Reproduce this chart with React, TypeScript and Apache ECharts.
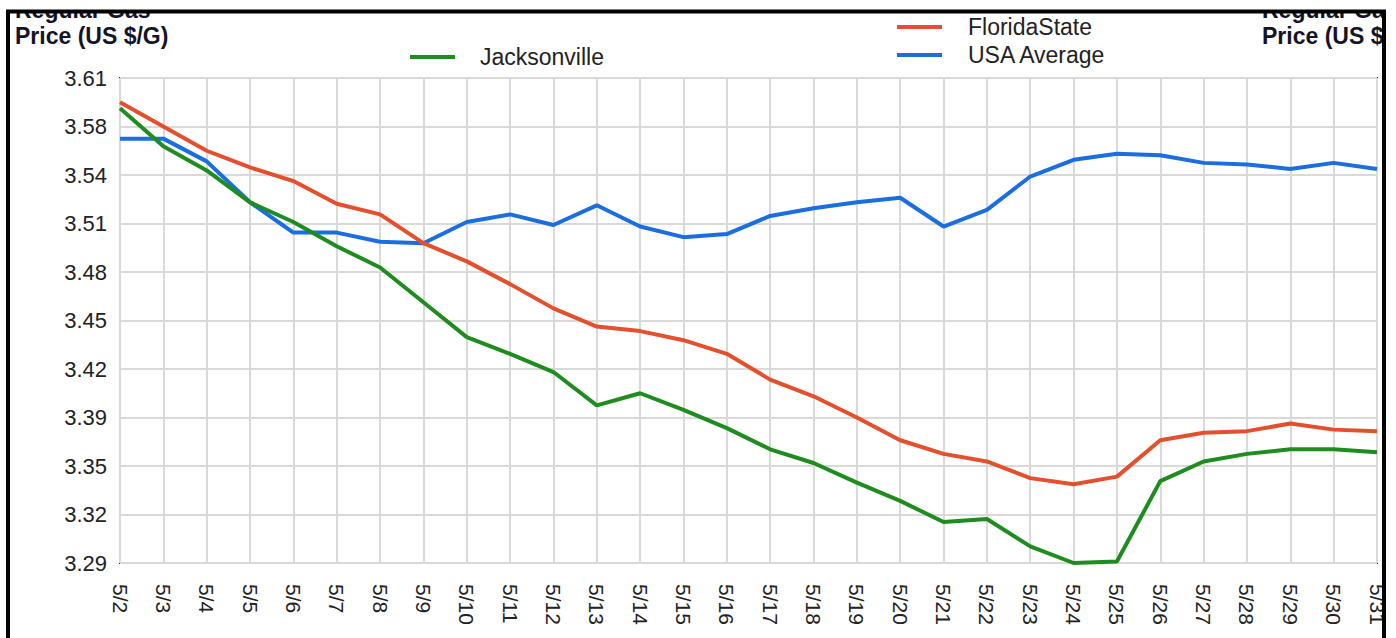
import React, { useEffect, useRef } from "react";
import * as echarts from "echarts";

const dates = ["5/2","5/3","5/4","5/5","5/6","5/7","5/8","5/9","5/10","5/11","5/12","5/13","5/14","5/15","5/16","5/17","5/18","5/19","5/20","5/21","5/22","5/23","5/24","5/25","5/26","5/27","5/28","5/29","5/30","5/31"];

const jacksonville = [3.590,3.565,3.549,3.528,3.515,3.499,3.485,3.462,3.439,3.428,3.416,3.394,3.402,3.391,3.379,3.365,3.356,3.343,3.331,3.317,3.319,3.301,3.290,3.291,3.344,3.357,3.362,3.365,3.365,3.363];
const floridaState = [3.594,3.578,3.562,3.551,3.542,3.527,3.520,3.501,3.489,3.474,3.458,3.446,3.443,3.437,3.428,3.411,3.400,3.386,3.371,3.362,3.357,3.346,3.342,3.347,3.371,3.376,3.377,3.382,3.378,3.377];
const usaAverage = [3.570,3.570,3.555,3.528,3.508,3.508,3.502,3.501,3.515,3.520,3.513,3.526,3.512,3.505,3.507,3.519,3.524,3.528,3.531,3.512,3.523,3.545,3.556,3.560,3.559,3.554,3.553,3.550,3.554,3.550];

const yTickLabels = ["3.29","3.32","3.35","3.39","3.42","3.45","3.48","3.51","3.54","3.58","3.61"];
const yMin = 3.29;
const yMax = 3.61;

const FONT = "'Liberation Sans', Arial, sans-serif";

export default function App() {
  const ref = useRef<HTMLDivElement>(null);
  useEffect(() => {
    if (!ref.current) return;
    const chart = echarts.init(ref.current, null, { renderer: "svg" });
    const gridColor = "#d9d9d9";
    chart.setOption({
      animation: false,
      backgroundColor: "#ffffff",
      textStyle: { fontFamily: FONT },
      grid: {
        left: 120, right: 19, top: 78, bottom: 75,
        show: true, borderColor: "#262626", borderWidth: 2, backgroundColor: "transparent",
      },
      legend: [
        {
          data: ["Jacksonville"], left: 410, top: 45, padding: 0,
          icon: "rect", itemWidth: 45, itemHeight: 4,
          textStyle: { fontSize: 23, color: "#222", fontFamily: FONT, lineHeight: 24, padding: [0, 0, 0, 20] },
        },
        {
          data: ["FloridaState", "USA Average"], left: 897, top: 15, padding: 0, orient: "vertical",
          icon: "rect", itemWidth: 45, itemHeight: 4, itemGap: 4,
          textStyle: { fontSize: 23, color: "#222", fontFamily: FONT, lineHeight: 24, padding: [0, 0, 0, 21] },
        },
      ],
      xAxis: {
        type: "category", data: dates, boundaryGap: false,
        axisLine: { show: false }, axisTick: { show: false },
        splitLine: { show: true, lineStyle: { color: gridColor, width: 2 } },
        axisLabel: { rotate: -90, margin: 21, fontSize: 21, color: "#222", interval: 0, fontFamily: FONT },
      },
      yAxis: [
        {
          type: "value", min: 0, max: 10, interval: 1,
          axisLine: { show: false }, axisTick: { show: false },
          splitLine: { show: true, lineStyle: { color: gridColor, width: 2 } },
          axisLabel: { fontSize: 22, color: "#222", margin: 13, fontFamily: FONT, formatter: (v: number) => yTickLabels[Math.round(v)] ?? "" },
        },
        {
          type: "value", min: yMin, max: yMax, show: false,
          splitLine: { show: false },
        },
      ],
      series: [
        { name: "USA Average", type: "line", yAxisIndex: 1, data: usaAverage, symbol: "none", color: "#1a6ee0", lineStyle: { width: 4, color: "#1a6ee0" }, z: 3 },
        { name: "Jacksonville", type: "line", yAxisIndex: 1, data: jacksonville, symbol: "none", color: "#1f8c1f", lineStyle: { width: 4, color: "#1f8c1f" }, z: 4 },
        { name: "FloridaState", type: "line", yAxisIndex: 1, data: floridaState, symbol: "none", color: "#e4502e", lineStyle: { width: 4, color: "#e4502e" }, z: 5 },
      ],
      graphic: [
        {
          type: "text", left: 15, top: -3, z: 10,
          style: { text: "Regular Gas\nPrice (US $/G)", font: `bold 23px ${FONT}`, fill: "#141428", lineHeight: 26 },
        },
        {
          type: "text", left: 1262, top: -3, z: 10,
          style: { text: "Regular Gas\nPrice (US $/G)", font: `bold 23px ${FONT}`, fill: "#141428", lineHeight: 26 },
        },
        { type: "rect", z: 20, shape: { x: 0, y: 0, width: 1396, height: 10 }, style: { fill: "#ffffff" } },
        { type: "rect", z: 20, shape: { x: 1386, y: 0, width: 10, height: 638 }, style: { fill: "#ffffff" } },
        { type: "rect", z: 20, shape: { x: 0, y: 0, width: 6, height: 638 }, style: { fill: "#ffffff" } },
        { type: "rect", z: 21, shape: { x: 8, y: 11.5, width: 1376, height: 700 }, style: { fill: "none", stroke: "#000", lineWidth: 4 } },
      ],
    });
    return () => chart.dispose();
  }, []);
  return <div ref={ref} style={{ position: "fixed", left: 0, top: 0, width: 1396, height: 638 }} />;
}
